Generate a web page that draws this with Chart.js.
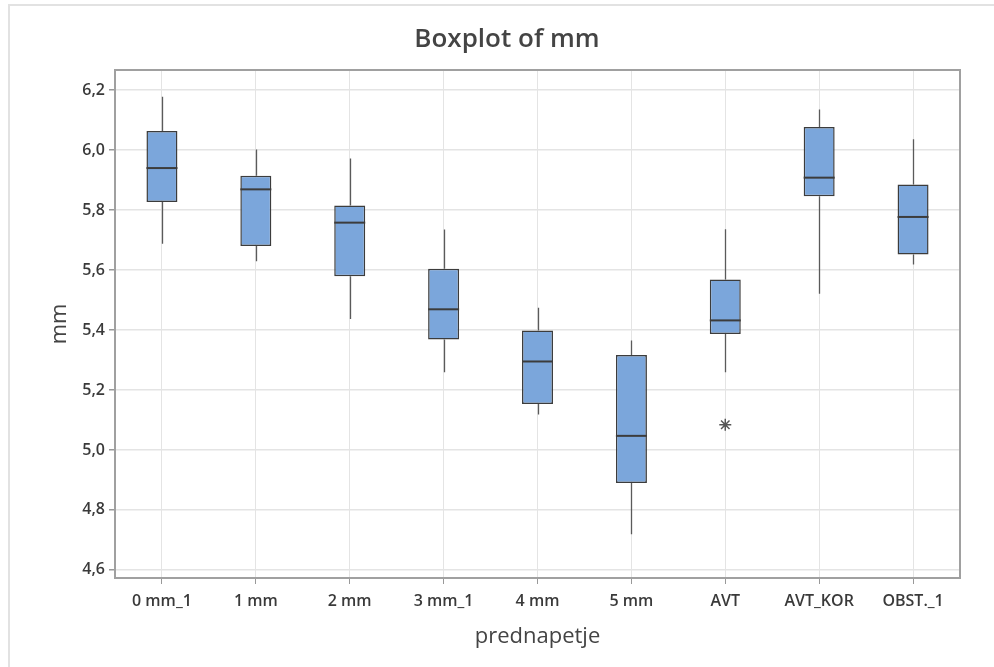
<!DOCTYPE html>
<html>
<head>
<meta charset="utf-8">
<script src="https://cdn.jsdelivr.net/npm/chart.js@4"></script>
<style>
  html, body { margin: 0; padding: 0; background: #fff; }
  #wrap { position: relative; width: 994px; height: 667px; }
  #frame { position: absolute; left: 8px; top: 4px; width: 990px; height: 670px;
           border-left: 2px solid #e2e2e2; border-top: 2px solid #e2e2e2; }
  canvas { position: absolute; left: 0; top: 0; }
</style>
</head>
<body>
<div id="wrap">
  <div id="frame"></div>
  <canvas id="boxChart" width="994" height="667"></canvas>
</div>
<script>
// Boxplot data
const groups = ['0 mm_1', '1 mm', '2 mm', '3 mm_1', '4 mm', '5 mm', 'AVT', 'AVT_KOR', 'OBST._1'];
const whiskerLow = [5.688, 5.629, 5.437, 5.259, 5.118, 4.719, 5.259, 5.521, 5.618];
const q1 =         [5.827, 5.680, 5.579, 5.368, 5.153, 4.890, 5.387, 5.846, 5.652];
const median =     [5.940, 5.869, 5.758, 5.469, 5.295, 5.047, 5.432, 5.908, 5.777];
const q3 =         [6.064, 5.914, 5.815, 5.604, 5.398, 5.317, 5.568, 6.077, 5.885];
const whiskerHigh =[6.178, 6.002, 5.972, 5.735, 5.474, 5.365, 5.736, 6.135, 6.036];
const outliers =   [null, null, null, null, null, null, 5.084, null, null];

const textColor = '#3a3a3a';
const font = "'Open Sans', 'Noto Sans', sans-serif";

// whiskers, medians and the plot frame
const boxExtras = {
  id: 'boxExtras',
  beforeDatasetsDraw(chart) {
    const { ctx, scales: { x, y } } = chart;
    ctx.save();
    ctx.strokeStyle = '#5a5a5a';
    ctx.lineWidth = 1.3;
    groups.forEach((g, i) => {
      const px = Math.round(x.getPixelForValue(i)) + 0.5;
      ctx.beginPath();
      ctx.moveTo(px, y.getPixelForValue(whiskerHigh[i]));
      ctx.lineTo(px, y.getPixelForValue(q3[i]));
      ctx.moveTo(px, y.getPixelForValue(q1[i]));
      ctx.lineTo(px, y.getPixelForValue(whiskerLow[i]));
      ctx.stroke();
    });
    ctx.restore();
  },
  afterDatasetsDraw(chart) {
    const { ctx, chartArea, scales: { y } } = chart;
    const meta = chart.getDatasetMeta(0);
    ctx.save();
    ctx.strokeStyle = '#3c3c3c';
    ctx.lineWidth = 2;
    meta.data.forEach((bar, i) => {
      const half = bar.width / 2;
      const py = y.getPixelForValue(median[i]);
      ctx.beginPath();
      ctx.moveTo(bar.x - half, py);
      ctx.lineTo(bar.x + half, py);
      ctx.stroke();
    });
    ctx.strokeStyle = '#a0a0a0';
    ctx.lineWidth = 2;
    ctx.strokeRect(chartArea.left, chartArea.top, chartArea.right - chartArea.left, chartArea.bottom - chartArea.top);
    ctx.restore();
  }
};

new Chart(document.getElementById('boxChart').getContext('2d'), {
  type: 'bar',
  data: {
    labels: groups,
    datasets: [{
      label: 'box',
      data: groups.map((g, i) => [q1[i], q3[i]]),
      backgroundColor: '#7ba6db',
      borderColor: '#3c3c3c',
      borderWidth: 1.5,
      borderSkipped: false,
      barPercentage: 0.33,
      categoryPercentage: 1
    }, {
      type: 'line',
      label: 'outlier',
      data: outliers,
      showLine: false,
      pointStyle: 'star',
      pointRadius: 6,
      pointBorderWidth: 1.5,
      borderColor: '#555',
      backgroundColor: '#555'
    }]
  },
  options: {
    responsive: false,
    animation: false,
    layout: { padding: { left: 20, right: 0, top: 0, bottom: 0 } },
    plugins: {
      legend: { display: false },
      tooltip: { enabled: false },
      title: {
        display: true,
        text: 'Boxplot of mm',
        color: '#444',
        font: { family: font, size: 26, weight: '600', lineHeight: 1.2 },
        padding: { top: 24, bottom: 14.8 }
      }
    },
    scales: {
      x: {
        offset: true,
        grid: { offset: false, color: '#e4e4e4', lineWidth: 1, tickLength: 6, tickColor: '#999' },
        border: { display: false },
        ticks: { color: textColor, padding: 8, maxRotation: 0, autoSkip: false,
                 font: { family: font, size: 16, weight: '600' } },
        title: { display: true, text: 'prednapetje', color: '#444',
                 font: { family: font, size: 22 }, padding: { bottom: 17 } },
        afterFit: s => { s.height = 89; }
      },
      y: {
        min: 4.573,
        max: 6.267,
        grid: { color: '#e4e4e4', lineWidth: 1.5, tickLength: 6, tickColor: '#999' },
        border: { display: false },
        ticks: { stepSize: 0.2, includeBounds: false, color: textColor, padding: 4,
                 font: { family: font, size: 16, weight: '600' },
                 callback: v => v.toFixed(1).replace('.', ',') },
        title: { display: true, text: 'mm', color: '#444',
                 font: { family: font, size: 22 }, padding: { top: 27 } },
        afterFit: s => { s.width = 95; }
      },
      // empty right axis, only keeps room on the right of the plot
      yRight: {
        position: 'right',
        grid: { display: false },
        border: { display: false },
        ticks: { display: false },
        afterFit: s => { s.width = 34; }
      }
    }
  },
  plugins: [boxExtras]
});
</script>
</body>
</html>
